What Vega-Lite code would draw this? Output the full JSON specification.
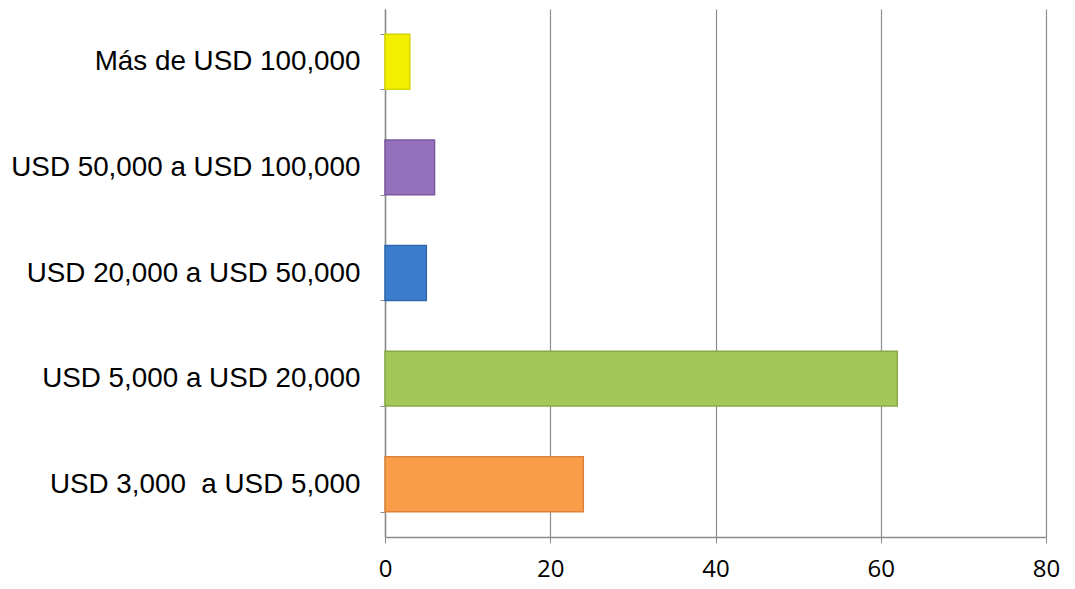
{
  "$schema": "https://vega.github.io/schema/vega-lite/v6.json",
  "autosize": {"type": "none"},
  "padding": {"left": 385, "top": 9, "right": 29, "bottom": 52},
  "width": 661,
  "height": 528,
  "background": "white",
  "data": {
    "values": [
      {"rango": "Más de USD 100,000", "valor": 3},
      {"rango": "USD 50,000 a USD 100,000", "valor": 6},
      {"rango": "USD 20,000 a USD 50,000", "valor": 5},
      {"rango": "USD 5,000 a USD 20,000", "valor": 62},
      {"rango": "USD 3,000\u00a0 a USD 5,000", "valor": 24}
    ]
  },
  "mark": {"type": "bar", "strokeWidth": 1.5},
  "encoding": {
    "y": {
      "field": "rango",
      "type": "nominal",
      "sort": null,
      "scale": {"paddingInner": 0.48, "paddingOuter": 0.24},
      "axis": {
        "title": null,
        "tickBand": "extent",
        "domainColor": "#8c8c8c",
        "domainWidth": 1.5,
        "tickColor": "#8c8c8c",
        "tickSize": 5,
        "labelFont": "Liberation Sans",
        "labelFontSize": 27.8,
        "labelColor": "#000000",
        "labelPadding": 20,
        "labelLimit": 400,
        "grid": false
      }
    },
    "x": {
      "field": "valor",
      "type": "quantitative",
      "scale": {"domain": [0, 80], "nice": false},
      "axis": {
        "title": null,
        "values": [0, 20, 40, 60, 80],
        "grid": true,
        "gridColor": "#8c8c8c",
        "gridWidth": 1.2,
        "domainColor": "#8c8c8c",
        "domainWidth": 1.5,
        "tickColor": "#8c8c8c",
        "tickSize": 6,
        "labelFont": "Open Sans",
        "labelFontSize": 24,
        "labelColor": "#000000",
        "labelPadding": 14,
        "labelFlush": false
      }
    },
    "color": {
      "field": "rango",
      "type": "nominal",
      "legend": null,
      "scale": {
        "domain": ["Más de USD 100,000", "USD 50,000 a USD 100,000", "USD 20,000 a USD 50,000", "USD 5,000 a USD 20,000", "USD 3,000\u00a0 a USD 5,000"],
        "range": ["#f2f000", "#9470bd", "#3b7dcc", "#a3c85a", "#f99d48"]
      }
    },
    "stroke": {
      "field": "rango",
      "type": "nominal",
      "legend": null,
      "scale": {
        "domain": ["Más de USD 100,000", "USD 50,000 a USD 100,000", "USD 20,000 a USD 50,000", "USD 5,000 a USD 20,000", "USD 3,000\u00a0 a USD 5,000"],
        "range": ["#d6d400", "#7a5a9f", "#2f68ad", "#8aaa48", "#d9843a"]
      }
    }
  },
  "config": {"view": {"stroke": null}}
}
